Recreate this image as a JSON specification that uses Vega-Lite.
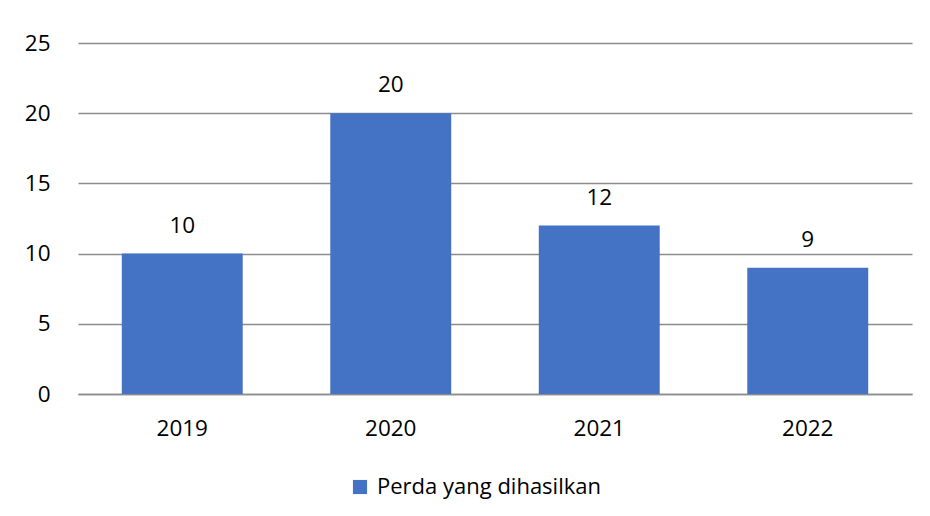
{
  "$schema": "https://vega.github.io/schema/vega-lite/v6.json",
  "width": 834,
  "height": 365,
  "autosize": {"type": "none"},
  "padding": {"left": 78, "top": 29, "right": 18, "bottom": 122},
  "background": "white",
  "data": {"values": [
    {"tahun": "2019", "nilai": 10, "seri": "Perda yang dihasilkan"},
    {"tahun": "2020", "nilai": 20, "seri": "Perda yang dihasilkan"},
    {"tahun": "2021", "nilai": 12, "seri": "Perda yang dihasilkan"},
    {"tahun": "2022", "nilai": 9, "seri": "Perda yang dihasilkan"}
  ]},
  "config": {
    "view": {"stroke": null},
    "font": "Open Sans",
    "axis": {"labelFont": "Open Sans", "labelFontSize": 22.5, "labelColor": "#000000"},
    "legend": {"labelFont": "Open Sans", "labelFontSize": 22, "labelColor": "#000000", "labelLimit": 400}
  },
  "encoding": {
    "x": {
      "field": "tahun", "type": "nominal",
      "scale": {"paddingInner": 0.42, "paddingOuter": 0.21},
      "axis": {"title": null, "labelAngle": 0, "ticks": false, "domain": true, "domainColor": "#8c8c8c", "domainWidth": 1.5, "labelPadding": 23, "grid": false}
    }
  },
  "layer": [
    {
      "mark": {"type": "bar", "color": "#4472C4"},
      "encoding": {
        "y": {
          "field": "nilai", "type": "quantitative",
          "scale": {"domain": [0, 25]},
          "axis": {"title": null, "values": [0, 5, 10, 15, 20, 25], "ticks": false, "domain": false, "grid": true, "gridColor": "#8c8c8c", "gridWidth": 1.5, "labelPadding": 28}
        },
        "color": {
          "field": "seri", "type": "nominal",
          "scale": {"range": ["#4472C4"]},
          "legend": {"title": null, "orient": "none", "legendX": 271, "legendY": 447, "symbolType": "square", "symbolSize": 200, "symbolStrokeWidth": 0, "labelOffset": 6}
        }
      }
    },
    {
      "mark": {"type": "text", "dy": -28, "fontSize": 22.5, "color": "#000000"},
      "encoding": {
        "y": {"field": "nilai", "type": "quantitative"},
        "text": {"field": "nilai", "type": "quantitative"}
      }
    }
  ]
}
